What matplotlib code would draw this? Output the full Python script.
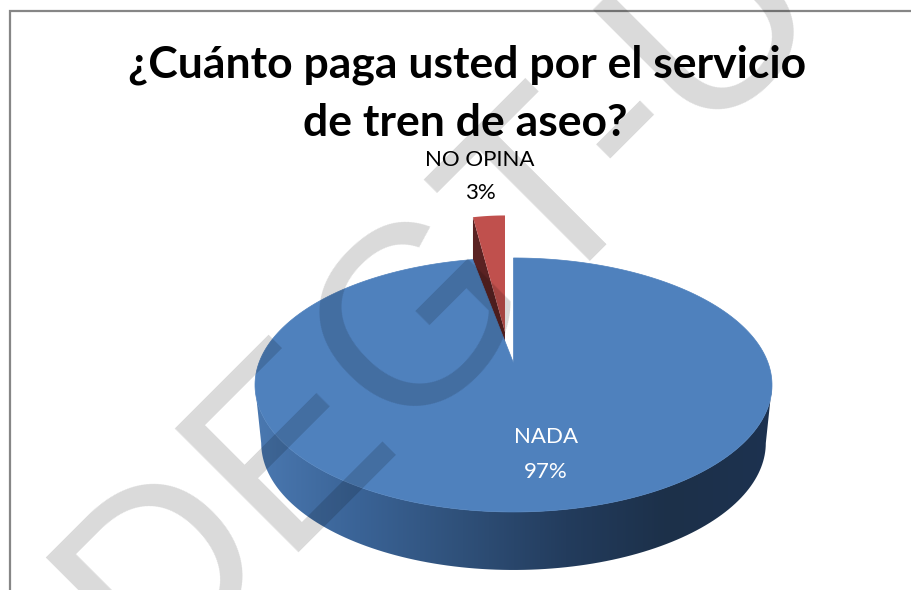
import numpy as np
import matplotlib
matplotlib.use('Agg')
import matplotlib.pyplot as plt
from matplotlib.colors import LinearSegmentedColormap
from matplotlib.patches import Polygon

# data
categories = ['NADA', 'NO OPINA']
values = [97, 3]
pie_colors = ['#4f81bd', '#c0504d']
title_lines = ['¿Cuánto paga usted por el servicio', 'de tren de aseo?']
watermark = 'DEGT-U'

fig = plt.figure(figsize=(9.11, 5.90), dpi=100)
ax = fig.add_axes([0, 0, 1, 1])
ax.set_xlim(0, 911)
ax.set_ylim(590, 0)
ax.axis('off')


def project(theta, cx, cy, a, b, p=0.173):
    """
    circle to screen, p is the perspective of the tilted pie
    """
    u = np.sin(theta)
    v = np.cos(theta)
    return cx + a*u/(1 + p*v), cy - b*v/(1 + p*v)


fractions = np.array(values)/sum(values)
split = 2*np.pi*fractions[0]

# frame, only top and left are in the picture
ax.plot([10, 10, 911], [590, 11, 11], color='#868686', lw=1.6, solid_joinstyle='miter', zorder=1)

# exploded slice, goes behind the big one
rx = 505
ry = 332
theta = np.linspace(split, 2*np.pi, 20)
x, y = project(theta, rx, ry, 200, 136.7)
ax.add_patch(Polygon([(x[0], y[0]), (x[0], y[0]+60), (rx, ry+20), (rx, ry)],
                     closed=True, fc='#5a2222', ec='none', zorder=2))
ax.add_patch(Polygon(list(zip(x, y)) + [(rx, ry)], closed=True, fc=pie_colors[1], ec='none', zorder=3))

# side of the big slice with shading from left to right
cx = 513.5
cy = 363
depth = 58
side_colors = ['#4a78b0', '#3a6396', '#2f5079', '#233c5d', '#1c3049', '#1d3250']
side_cmap = LinearSegmentedColormap.from_list('side', side_colors)
t_top = np.radians(np.linspace(100, 260, 120))
x1, y1 = project(t_top, cx, cy, 254.6, 123.2)
x2, y2 = project(t_top[::-1], cx, cy + depth, 248.5, 123.2)
side = Polygon(list(zip(x1, y1)) + list(zip(x2, y2)), closed=True, fc='none', ec='none', zorder=4)
ax.add_patch(side)
im = ax.imshow(np.linspace(0, 1, 256).reshape(1, -1), cmap=side_cmap, aspect='auto',
               extent=[256, 773, 590, 380], zorder=4)
im.set_clip_path(side)
ax.set_xlim(0, 911)
ax.set_ylim(590, 0)

# top of the big slice
theta = np.linspace(0, split, 300)
x, y = project(theta, cx, cy, 254.6, 123.2)
ax.add_patch(Polygon(list(zip(x, y)) + [(cx, cy)], closed=True, fc=pie_colors[0], ec=pie_colors[0], lw=0.5, zorder=5))

# labels
ax.text(480, 160, categories[1], ha='center', va='center', fontsize=16, family='Lato', color='black', zorder=6)
ax.text(480, 193, '%d%%' % values[1], ha='center', va='center', fontsize=16, family='Lato', color='black', zorder=6)
ax.text(546, 437, categories[0], ha='center', va='center', fontsize=16, family='Lato', color='white', zorder=6)
ax.text(546, 472, '%d%%' % values[0], ha='center', va='center', fontsize=16, family='Lato', color='white', zorder=6)

ax.text(467, 65, title_lines[0], ha='center', va='center', fontsize=32, family='Lato', weight='bold', zorder=6)
ax.text(465, 123, title_lines[1], ha='center', va='center', fontsize=32, family='Lato', weight='bold', zorder=6)

# watermark on top of everything, darkens what is under it
ax.text(148.5, 681.5, watermark, rotation=45, rotation_mode='anchor', ha='left', va='baseline',
        fontsize=183, family='Liberation Sans', color='black', alpha=0.15, zorder=7, clip_on=True)

fig.savefig('out.png', dpi=100)
